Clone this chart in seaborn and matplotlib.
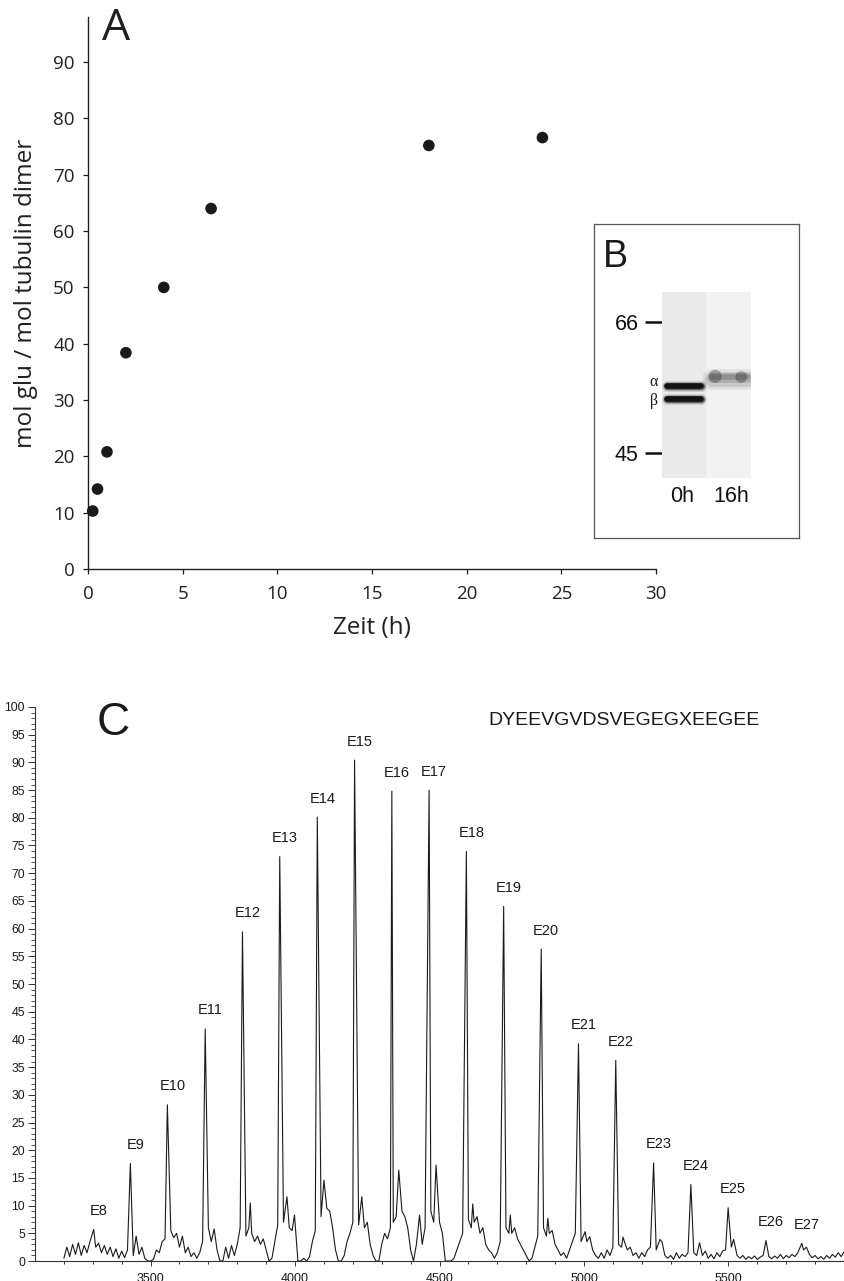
import numpy as np
import pandas as pd
import matplotlib
matplotlib.use('Agg')
import matplotlib.pyplot as plt
import matplotlib.transforms as mtransforms
from matplotlib.ticker import MultipleLocator, FixedLocator, NullLocator
import seaborn as sns

# --- panel A: glutamate incorporation over time
time_h = [0.25, 0.5, 1, 2, 4, 6.5, 18, 24]
mol_glu = [10.3, 14.2, 20.8, 38.4, 50.0, 64.0, 75.2, 76.6]

# --- panel B: western blot
marker_kda = [66, 45]
marker_labels = ['66', '45']
lane_labels = ['0h', '16h']
band_lane = [0, 0, 1]
band_kda = [54.8, 52.7, 56.1]
band_names = ['α', 'β', '']

# --- panel C: mass spectrum
peak_labels = [f'E{n}' for n in range(8, 28)]
peak_mass = [3303, 3430, 3558, 3689, 3818, 3947, 4077, 4206, 4335, 4464,
             4593, 4722, 4852, 4981, 5110, 5241, 5370, 5499, 5630, 5754]
peak_int = [5.7, 17.6, 28.2, 41.9, 59.4, 73.0, 80.1, 90.4, 84.8, 85.0,
            73.9, 64.0, 56.3, 39.2, 36.2, 17.7, 13.8, 9.6, 3.7, 3.2]
side_mass = [3845, 3972, 3998, 4100, 4231, 4359, 4431, 4488, 4615, 4745,
             4875, 5004, 5020, 5135, 5263, 5400, 5518]
side_int = [10.5, 11.6, 8.3, 14.6, 11.6, 16.4, 8.3, 17.3, 10.3, 8.3,
            7.7, 5.3, 4.4, 4.3, 3.9, 3.3, 3.9]
noise_mass = np.arange(3200, 5901, 10)
noise_int = [
    0.5, 2.5, 0.8, 3.0, 1.2, 3.3, 1.0, 2.8, 1.5, 3.5,
    4.2, 2.5, 3.2, 1.5, 2.8, 1.2, 2.5, 0.8, 2.2, 0.5,
    1.8, 0.6, 2.0, 3.0, 1.0, 4.5, 1.2, 2.5, 0.5, 0.0,
    0.0, 0.3, 2.0, 1.5, 3.5, 4.0, 6.0, 5.5, 4.2, 5.0,
    2.5, 4.5, 1.5, 2.5, 0.8, 1.5, 0.5, 1.5, 3.5, 6.0,
    6.0, 3.5, 5.8, 2.0, 0.0, 0.0, 2.5, 0.5, 2.8, 1.0,
    3.0, 6.0, 7.0, 4.5, 6.0, 5.0, 3.5, 4.5, 3.0, 4.0,
    2.0, 0.0, 0.5, 3.5, 6.5, 8.0, 7.0, 6.0, 6.0, 5.5,
    4.0, 0.0, 0.0, 0.5, 0.0, 0.8, 3.5, 5.5, 8.0, 8.0,
    14.0, 9.5, 9.0, 6.0, 2.0, 0.0, 0.0, 1.0, 3.5, 5.0,
    7.0, 8.0, 6.5, 8.0, 6.0, 7.0, 3.0, 1.0, 0.0, 0.0,
    3.0, 5.0, 4.0, 6.0, 7.0, 8.0, 12.0, 9.0, 8.0, 6.0,
    2.0, 0.0, 3.0, 8.0, 3.0, 6.0, 8.0, 9.0, 7.0, 10.0,
    7.0, 5.0, 0.0, 0.0, 0.0, 0.5, 2.0, 3.5, 5.0, 7.0,
    7.5, 6.0, 7.0, 8.0, 5.0, 6.0, 3.0, 2.0, 1.5, 0.5,
    1.5, 3.5, 6.0, 6.0, 5.0, 5.0, 6.0, 4.0, 3.0, 2.0,
    1.0, 0.0, 0.5, 2.5, 4.5, 6.0, 6.0, 4.5, 5.0, 5.5,
    3.0, 2.0, 1.0, 1.5, 0.5, 2.0, 3.5, 5.0, 4.0, 3.5,
    3.0, 3.5, 4.4, 2.0, 1.0, 0.5, 1.5, 0.5, 2.0, 1.0,
    2.5, 4.0, 3.0, 2.5, 3.5, 2.0, 2.5, 1.0, 1.5, 0.5,
    1.5, 0.8, 2.0, 2.5, 3.0, 2.0, 3.0, 3.5, 1.0, 0.5,
    1.0, 0.3, 1.5, 0.5, 1.2, 0.8, 1.5, 2.0, 1.5, 1.0,
    3.0, 1.0, 1.8, 0.5, 1.2, 0.4, 1.5, 0.8, 1.8, 2.0,
    2.0, 2.5, 3.0, 1.0, 0.5, 1.0, 0.3, 0.8, 0.4, 0.9,
    0.3, 0.7, 1.0, 1.0, 0.8, 0.4, 0.9, 0.5, 1.2, 0.4,
    1.0, 0.6, 1.2, 0.8, 1.5, 1.0, 2.0, 2.5, 1.2, 0.6,
    1.0, 0.4, 0.8, 0.3, 1.0, 0.5, 1.2, 0.7, 1.5, 0.8,
    1.6,
]
sequence = 'DYEEVGVDSVEGEGXEEGEE'

INK = '#231f20'


def spectrum_frame():
    # drop baseline samples that sit right on top of a peak apex
    apex = np.array(peak_mass + side_mass)
    dist = np.abs(noise_mass[:, None] - apex[None, :]).min(axis=1)
    keep = dist > 4
    df = pd.DataFrame({
        'mass': np.concatenate([noise_mass[keep], peak_mass, side_mass]),
        'intensity': np.concatenate([np.array(noise_int)[keep], peak_int, side_int]),
    })
    return df.sort_values('mass')


def plot_time_course(fig):
    ax = fig.add_axes([0.1043, 0.5558, 0.673, 0.4309])
    sns.scatterplot(x=time_h, y=mol_glu, ax=ax, color='#1a1a1a', s=70,
                    edgecolor='none', clip_on=False, zorder=3)
    ax.set_xlim(0, 30)
    ax.set_ylim(0, 98)
    ax.xaxis.set_major_locator(MultipleLocator(5))
    ax.set_yticks(range(0, 91, 10))
    sns.despine(ax=ax)
    for side in ('left', 'bottom'):
        ax.spines[side].set_linewidth(1.0)
        ax.spines[side].set_color(INK)
    ax.tick_params(axis='both', direction='out', length=3.6, width=0.9,
                   color=INK, labelcolor=INK, labelsize=13.5)
    ax.tick_params(axis='x', pad=8)
    ax.tick_params(axis='y', pad=6)
    for lab in ax.get_xticklabels() + ax.get_yticklabels():
        lab.set_family('Open Sans')
    ax.set_xlabel('Zeit (h)', family='Open Sans', size=17.5, color=INK, labelpad=9)
    ax.set_ylabel('mol glu / mol tubulin dimer', family='Open Sans', size=17.5,
                  color=INK, labelpad=11)
    ax.text(0.0246, 0.978, 'A', transform=ax.transAxes, family='Open Sans',
            size=32, color=INK, ha='left', va='center')


def plot_gel(fig):
    box = fig.add_axes([0.7038, 0.58, 0.2429, 0.2451])
    box.set_xticks([])
    box.set_yticks([])
    for sp in box.spines.values():
        sp.set_visible(True)
        sp.set_color('#555555')
        sp.set_linewidth(0.9)
    box.text(0.044, 0.896, 'B', transform=box.transAxes, size=27,
             color='#1a1a1a', ha='left', va='center')

    gel = fig.add_axes([0.784, 0.6268, 0.1058, 0.1452])
    gel.set_yscale('log')
    gel.set_ylim(41.8, 72.1)
    gel.set_xlim(0, 2)
    gel.axvspan(0, 1, color='#eaeaea', lw=0)
    gel.axvspan(1, 2, color='#f2f2f2', lw=0)

    for lane, kda, name in zip(band_lane, band_kda, band_names):
        x0, x1 = lane + 0.12, lane + 0.88
        if lane == 0:
            # soft halo, then dark core of the band
            for lw, alpha in [(8, 0.10), (6.5, 0.2), (5, 0.45), (4, 0.9)]:
                gel.plot([x0, x1], [kda, kda], color='#0a0a0a', lw=lw,
                         alpha=alpha, solid_capstyle='round')
        else:
            for lw, alpha, k in [(15, 0.08, 0.995), (11, 0.12, 0.997),
                                 (7, 0.16, 1.0), (4, 0.2, 1.003)]:
                gel.plot([x0, x1 + 0.04], [kda * k, kda * k], color='#222222',
                         lw=lw, alpha=alpha, solid_capstyle='round')
            gel.scatter([lane + 0.2, lane + 0.78], [kda * 1.004, kda * 1.002],
                        s=[90, 70], color='#1a1a1a', alpha=0.3, edgecolor='none')
        if name:
            # α sits a hair above its band, β a hair below
            lift = 2.5 if name == 'α' else -1.5
            gel.annotate(name, (0, kda), xycoords=('axes fraction', 'data'),
                         xytext=(-3, lift), textcoords='offset points',
                         ha='right', va='center', size=11.5,
                         family=['Liberation Serif', 'DejaVu Serif'],
                         color='#1a1a1a')

    for sp in gel.spines.values():
        sp.set_visible(False)
    gel.yaxis.set_major_locator(FixedLocator(marker_kda))
    gel.yaxis.set_minor_locator(NullLocator())
    gel.set_yticklabels(marker_labels)
    gel.tick_params(axis='y', length=12, width=1.8, pad=4.5, labelsize=15.5,
                    color='#111111', labelcolor='#111111', direction='out')
    gel.set_xticks([0.45, 1.55])
    gel.set_xticklabels(lane_labels)
    gel.tick_params(axis='x', length=0, pad=6, labelsize=15.5, labelcolor='#111111')


def plot_spectrum(fig):
    ax = fig.add_axes([0.0415, 0.0156, 0.9585, 0.4325])
    df = spectrum_frame()
    sns.lineplot(data=df, x='mass', y='intensity', ax=ax, estimator=None,
                 color='#1a1a1a', lw=0.8)
    ax.set_xlim(3100, 5900)
    ax.set_ylim(0, 100)
    ax.set_xlabel('')
    ax.set_ylabel('')
    sns.despine(ax=ax)
    for side in ('left', 'bottom'):
        ax.spines[side].set_linewidth(0.8)
        ax.spines[side].set_color('#333333')
    ax.xaxis.set_major_locator(MultipleLocator(500))
    ax.xaxis.set_minor_locator(FixedLocator(np.arange(3200, 5801, 100)))
    ax.yaxis.set_major_locator(MultipleLocator(5))
    ax.yaxis.set_minor_locator(MultipleLocator(1))
    ax.tick_params(axis='x', which='major', length=3.6, width=0.7, pad=5,
                   labelsize=9, color='#333333', labelcolor='#1a1a1a')
    ax.tick_params(axis='x', which='minor', length=2.4, width=0.7, color='#333333')
    ax.tick_params(axis='y', which='major', length=4.8, width=0.7, pad=2.5,
                   labelsize=8.8, color='#333333', labelcolor='#1a1a1a')
    ax.tick_params(axis='y', which='minor', length=3.0, width=0.6, color='#333333')

    for label, m, h in zip(peak_labels, peak_mass, peak_int):
        ax.annotate(label, (m, h), xytext=(3.6, 13.3), textcoords='offset points',
                    ha='center', va='center', size=10.5, color='#1a1a1a')

    ax.text(0.0964, 0.971, 'C', transform=ax.transAxes, size=33,
            color='#1a1a1a', ha='center', va='center')
    ax.text(0.56, 0.975, sequence, transform=ax.transAxes, size=14,
            color='#1a1a1a', ha='left', va='center')


def main():
    sns.set_style('ticks')
    plt.rcParams['font.family'] = ['Liberation Sans', 'DejaVu Sans']
    plt.rcParams['axes.facecolor'] = 'white'

    fig = plt.figure(figsize=(8.44, 12.81), dpi=100)
    plot_time_course(fig)
    plot_gel(fig)
    plot_spectrum(fig)
    fig.savefig('out.png', dpi=100)


if __name__ == '__main__':
    main()
